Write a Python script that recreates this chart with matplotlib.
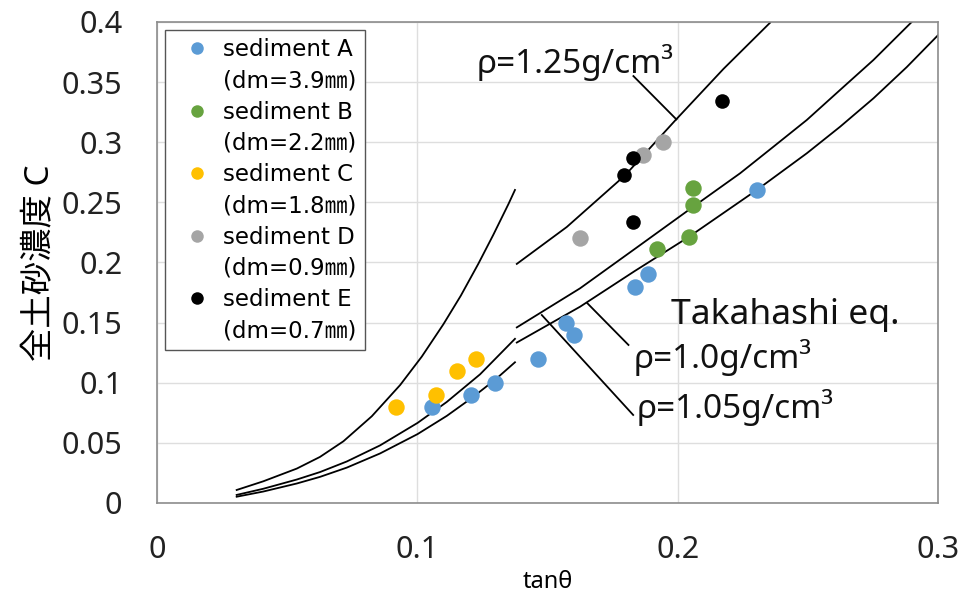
"""Sediment concentration vs. tan(theta), compared with Takahashi's equation."""

import matplotlib

matplotlib.use("Agg")
import matplotlib.pyplot as plt
from matplotlib.lines import Line2D

plt.rcParams["font.family"] = ["Noto Sans", "Noto Sans CJK JP", "DejaVu Sans"]

# measured points, one pair of arrays per sediment
sed_a_x = [0.1056, 0.1206, 0.1300, 0.1464, 0.1570, 0.1603, 0.1836, 0.1886, 0.2304]
sed_a_y = [0.080, 0.090, 0.100, 0.120, 0.150, 0.140, 0.180, 0.190, 0.260]
sed_b_x = [0.1921, 0.2045, 0.2060, 0.2060]
sed_b_y = [0.211, 0.221, 0.248, 0.262]
sed_c_x = [0.0918, 0.1070, 0.1151, 0.1226]
sed_c_y = [0.080, 0.090, 0.110, 0.120]
sed_d_x = [0.1625, 0.1866, 0.1943]
sed_d_y = [0.220, 0.289, 0.300]
sed_e_x = [0.1795, 0.1830, 0.1827, 0.2172]
sed_e_y = [0.273, 0.287, 0.234, 0.334]

SEDIMENTS = [
    ("sediment A", "(dm=3.9㎜)", "#5b9bd5", sed_a_x, sed_a_y),
    ("sediment B", "(dm=2.2㎜)", "#67a33f", sed_b_x, sed_b_y),
    ("sediment C", "(dm=1.8㎜)", "#ffc000", sed_c_x, sed_c_y),
    ("sediment D", "(dm=0.9㎜)", "#a5a5a5", sed_d_x, sed_d_y),
    ("sediment E", "(dm=0.7㎜)", "#000000", sed_e_x, sed_e_y),
]

# Takahashi eq. curves (two pieces each, split near 0.137)
rho125_lo_x = [0.0306, 0.0408, 0.0537, 0.0626, 0.0716, 0.0825, 0.0934, 0.1017,
               0.1100, 0.1167, 0.1234, 0.1292, 0.1350, 0.1375]
rho125_lo_y = [0.0108, 0.0180, 0.0286, 0.0383, 0.0513, 0.0721, 0.0981, 0.1217,
               0.1486, 0.1724, 0.1988, 0.2231, 0.2486, 0.2603]
rho125_hi_x = [0.1382, 0.1574, 0.1798, 0.1990, 0.2176, 0.2355]
rho125_hi_y = [0.1988, 0.2295, 0.2725, 0.3180, 0.3610, 0.3994]

rho105_lo_x = [0.0306, 0.0408, 0.0537, 0.0626, 0.0729, 0.0857, 0.1001, 0.1113, 0.1241, 0.1375]
rho105_lo_y = [0.0067, 0.0118, 0.0195, 0.0257, 0.0345, 0.0479, 0.0666, 0.0840, 0.1070, 0.1365]
rho105_hi_x = [0.1382, 0.1625, 0.1840, 0.2060, 0.2240, 0.2368, 0.2496, 0.2624, 0.2752, 0.2899]
rho105_hi_y = [0.1460, 0.1785, 0.2120, 0.2464, 0.2742, 0.2963, 0.3185, 0.3435, 0.3684, 0.4000]

rho100_lo_x = [0.0306, 0.0408, 0.0537, 0.0626, 0.0729, 0.0857, 0.1001, 0.1113, 0.1209, 0.1301, 0.1375]
rho100_lo_y = [0.0052, 0.0095, 0.0162, 0.0217, 0.0294, 0.0412, 0.0573, 0.0724, 0.0873, 0.1029, 0.1170]
rho100_hi_x = [0.1382, 0.1625, 0.1836, 0.2041, 0.2304, 0.2496, 0.2624, 0.2752, 0.2880, 0.3000]
rho100_hi_y = [0.1334, 0.1632, 0.1930, 0.2210, 0.2603, 0.2908, 0.3129, 0.3365, 0.3625, 0.3890]

CURVES = [
    (rho125_lo_x, rho125_lo_y), (rho125_hi_x, rho125_hi_y),
    (rho105_lo_x, rho105_lo_y), (rho105_hi_x, rho105_hi_y),
    (rho100_lo_x, rho100_lo_y), (rho100_hi_x, rho100_hi_y),
]

# callout labels: text, anchor, size, and leader line (curve point -> label)
callouts = [
    ("ρ=1.25g/cm³", 0.1229, 0.366, 24, [0.1995, 0.1830], [0.3190, 0.3550]),
    ("ρ=1.0g/cm³", 0.1829, 0.1206, 24, [0.1653, 0.1811], [0.1661, 0.1314]),
    ("ρ=1.05g/cm³", 0.1844, 0.0798, 24, [0.1478, 0.1829], [0.1563, 0.0732]),
    ("Takahashi eq.", 0.1975, 0.1560, 25.5, None, None),
]

x_ticks = [0, 0.1, 0.2, 0.3]
x_tick_labels = ["0", "0.1", "0.2", "0.3"]
y_ticks = [0, 0.05, 0.1, 0.15, 0.2, 0.25, 0.3, 0.35, 0.4]
y_tick_labels = ["0", "0.05", "0.1", "0.15", "0.2", "0.25", "0.3", "0.35", "0.4"]

fig = plt.figure(figsize=(9.77, 5.97), dpi=100)
ax = fig.add_axes([0.1607, 0.1575, 0.7994, 0.8057])

ax.set_xlim(0, 0.3)
ax.set_ylim(0, 0.4)
ax.set_xticks(x_ticks, x_tick_labels)
ax.set_yticks(y_ticks, y_tick_labels)
ax.tick_params(length=0, labelsize=22, colors="#222222")
ax.tick_params(axis="x", pad=23)
ax.tick_params(axis="y", pad=25)
ax.grid(color="#dedede", linewidth=1.0)
ax.set_axisbelow(True)
for sp in ax.spines.values():
    sp.set_color("#8c8c8c")
    sp.set_linewidth(1.2)

for cx, cy in CURVES:
    ax.plot(cx, cy, color="black", linewidth=1.3, zorder=2)

for name, dm, color, xs, ys in SEDIMENTS:
    size = 110 if color == "#000000" else 140
    ax.scatter(xs, ys, s=size, color=color, linewidths=0, zorder=3)

for text, tx, ty, fs, lx, ly in callouts:
    ax.text(tx, ty, text, fontsize=fs, ha="left", va="center", color="#111111", zorder=4)
    if lx is not None:
        ax.plot(lx, ly, color="black", linewidth=1.3, zorder=2)

ax.set_xlabel("tanθ", fontsize=17)
ax.xaxis.set_label_coords(0.5, -0.139)
ax.set_ylabel("全土砂濃度 C", fontsize=24)
ax.yaxis.set_label_coords(-0.128, 0.5)

# legend: name row with marker, then the diameter row without one
handles, labels = [], []
for name, dm, color, xs, ys in SEDIMENTS:
    handles.append(Line2D([], [], marker="o", linestyle="none", markersize=9,
                          markerfacecolor=color, markeredgewidth=0))
    labels.append(name)
    handles.append(Line2D([], [], linestyle="none"))
    labels.append(dm)

leg = ax.legend(
    handles, labels, loc="upper left", bbox_to_anchor=(0.0102, 0.983),
    borderaxespad=0, fancybox=False, framealpha=1, edgecolor="#555555",
    prop={"family": ["DejaVu Sans", "Noto Sans CJK JP"], "size": 16.5},
    labelspacing=0.36, handletextpad=0.1, handlelength=2.1, borderpad=0.35,
)
leg.get_frame().set_linewidth(1.0)

fig.savefig("out.png", dpi=100)
